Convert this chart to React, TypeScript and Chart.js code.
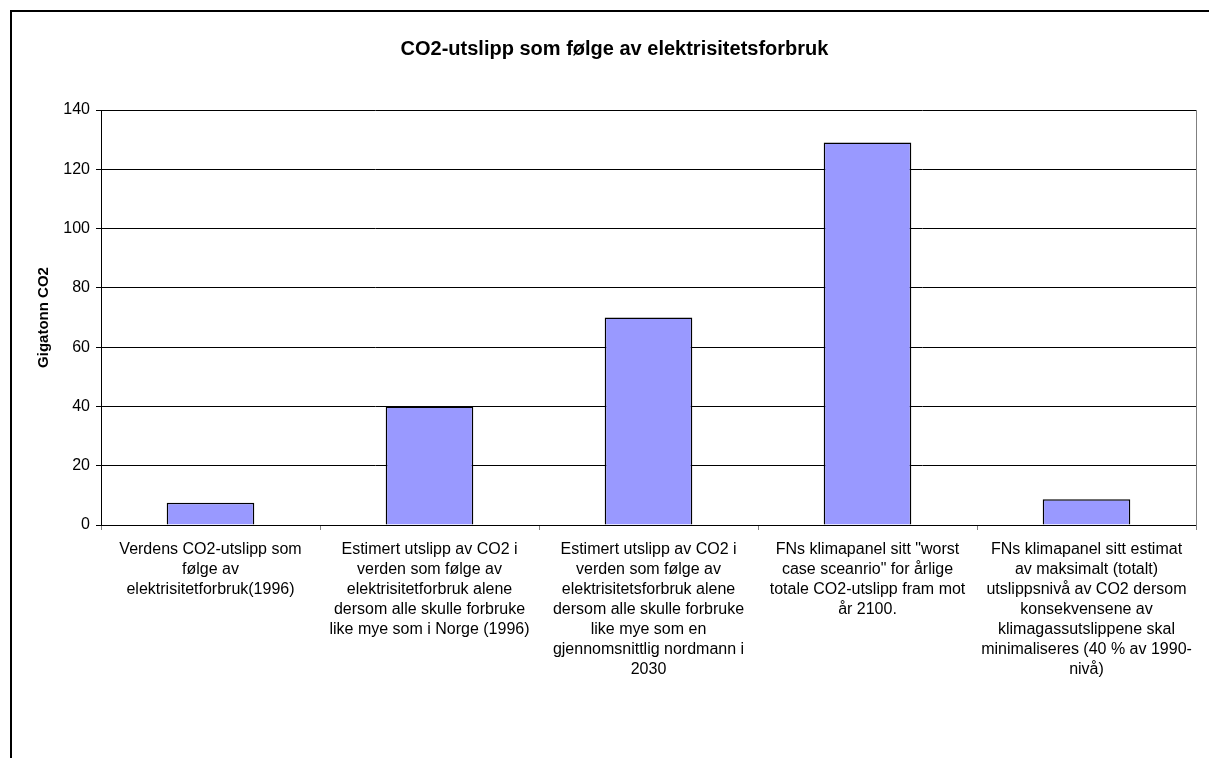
import React, { useEffect, useRef } from "react";
import { Chart, registerables } from "chart.js";

Chart.register(...registerables);

const chartTitle = "CO2-utslipp som følge av elektrisitetsforbruk";
const yAxisTitle = "Gigatonn CO2";

const categories: string[][] = [
  ["Verdens CO2-utslipp som", "følge av", "elektrisitetforbruk(1996)"],
  [
    "Estimert utslipp av CO2 i",
    "verden som følge av",
    "elektrisitetforbruk alene",
    "dersom alle skulle forbruke",
    "like mye som i Norge (1996)",
  ],
  [
    "Estimert utslipp av CO2 i",
    "verden som følge av",
    "elektrisitetsforbruk alene",
    "dersom alle skulle forbruke",
    "like mye som en",
    "gjennomsnittlig nordmann i",
    "2030",
  ],
  [
    "FNs klimapanel sitt \"worst",
    "case sceanrio\" for årlige",
    "totale CO2-utslipp fram mot",
    "år 2100.",
  ],
  [
    "FNs klimapanel sitt estimat",
    "av maksimalt (totalt)",
    "utslippsnivå av CO2 dersom",
    "konsekvensene av",
    "klimagassutslippene skal",
    "minimaliseres (40 % av 1990-",
    "nivå)",
  ],
];

const values: number[] = [7.5, 40, 70, 129, 8.7];

const yMin = 0;
const yMax = 140;
const yStep = 20;

const FONT = "'Liberation Sans', Arial, sans-serif";

const framePlugin = {
  id: "frame",
  beforeDraw(chart: any) {
    const { ctx } = chart;
    ctx.save();
    ctx.fillStyle = "#ffffff";
    ctx.fillRect(0, 0, chart.width, chart.height);
    ctx.strokeStyle = "#000000";
    ctx.lineWidth = 2;
    ctx.strokeRect(11, 11, chart.width + 100, chart.height + 100);
    ctx.restore();
  },
  afterDatasetsDraw(chart: any) {
    const { ctx, chartArea } = chart;
    ctx.save();
    ctx.strokeStyle = "#808080";
    ctx.lineWidth = 1;
    const x = Math.round(chartArea.right) + 0.5;
    ctx.beginPath();
    ctx.moveTo(x, chartArea.top);
    ctx.lineTo(x, chartArea.bottom + 4);
    ctx.stroke();
    ctx.restore();
  },
};

export default function App() {
  const canvasRef = useRef<HTMLCanvasElement | null>(null);

  useEffect(() => {
    if (!canvasRef.current) return;
    const chart = new Chart(canvasRef.current, {
      type: "bar",
      data: {
        labels: categories,
        datasets: [
          {
            data: values,
            backgroundColor: "#9999FF",
            borderColor: "#000000",
            borderWidth: 1.5,
            barPercentage: 0.4,
            categoryPercentage: 1,
          },
        ],
      },
      options: {
        responsive: false,
        animation: false,
        layout: { padding: { left: 33, top: 0, right: 13, bottom: 0 } },
        plugins: {
          legend: { display: false },
          tooltip: { enabled: false },
          title: {
            display: true,
            text: chartTitle,
            color: "#000000",
            font: { family: FONT, size: 20, weight: "bold", lineHeight: 1.2 },
            padding: { top: 37, bottom: 49 },
          },
        },
        scales: {
          x: {
            grid: {
              display: true,
              drawOnChartArea: false,
              drawTicks: true,
              tickLength: 5,
              color: "#808080",
              offset: true,
            },
            border: { display: true, color: "#000000", width: 1 },
            ticks: {
              autoSkip: false,
              maxRotation: 0,
              minRotation: 0,
              padding: 10,
              color: "#000000",
              font: { family: FONT, size: 16, lineHeight: 1.25 },
            },
            afterFit(scale: any) {
              scale.height = 233;
            },
          },
          y: {
            min: yMin,
            max: yMax,
            ticks: {
              stepSize: yStep,
              padding: 6,
              color: "#000000",
              font: { family: FONT, size: 16 },
            },
            grid: {
              color: "#000000",
              lineWidth: 1,
              drawTicks: true,
              tickLength: 5,
            },
            border: { display: true, color: "#000000", width: 1 },
            title: {
              display: true,
              text: yAxisTitle,
              color: "#000000",
              font: { family: FONT, size: 15, weight: "bold", lineHeight: 1.2 },
              padding: { top: 2, bottom: 0 },
            },
            afterFit(scale: any) {
              scale.width = 68;
            },
          },
        },
      },
      plugins: [framePlugin],
    });
    return () => chart.destroy();
  }, []);

  return (
    <div style={{ position: "fixed", left: 0, top: 0, width: 1209, height: 758, overflow: "hidden", background: "#fff" }}>
      <canvas ref={canvasRef} width={1209} height={758} style={{ display: "block" }} />
    </div>
  );
}
